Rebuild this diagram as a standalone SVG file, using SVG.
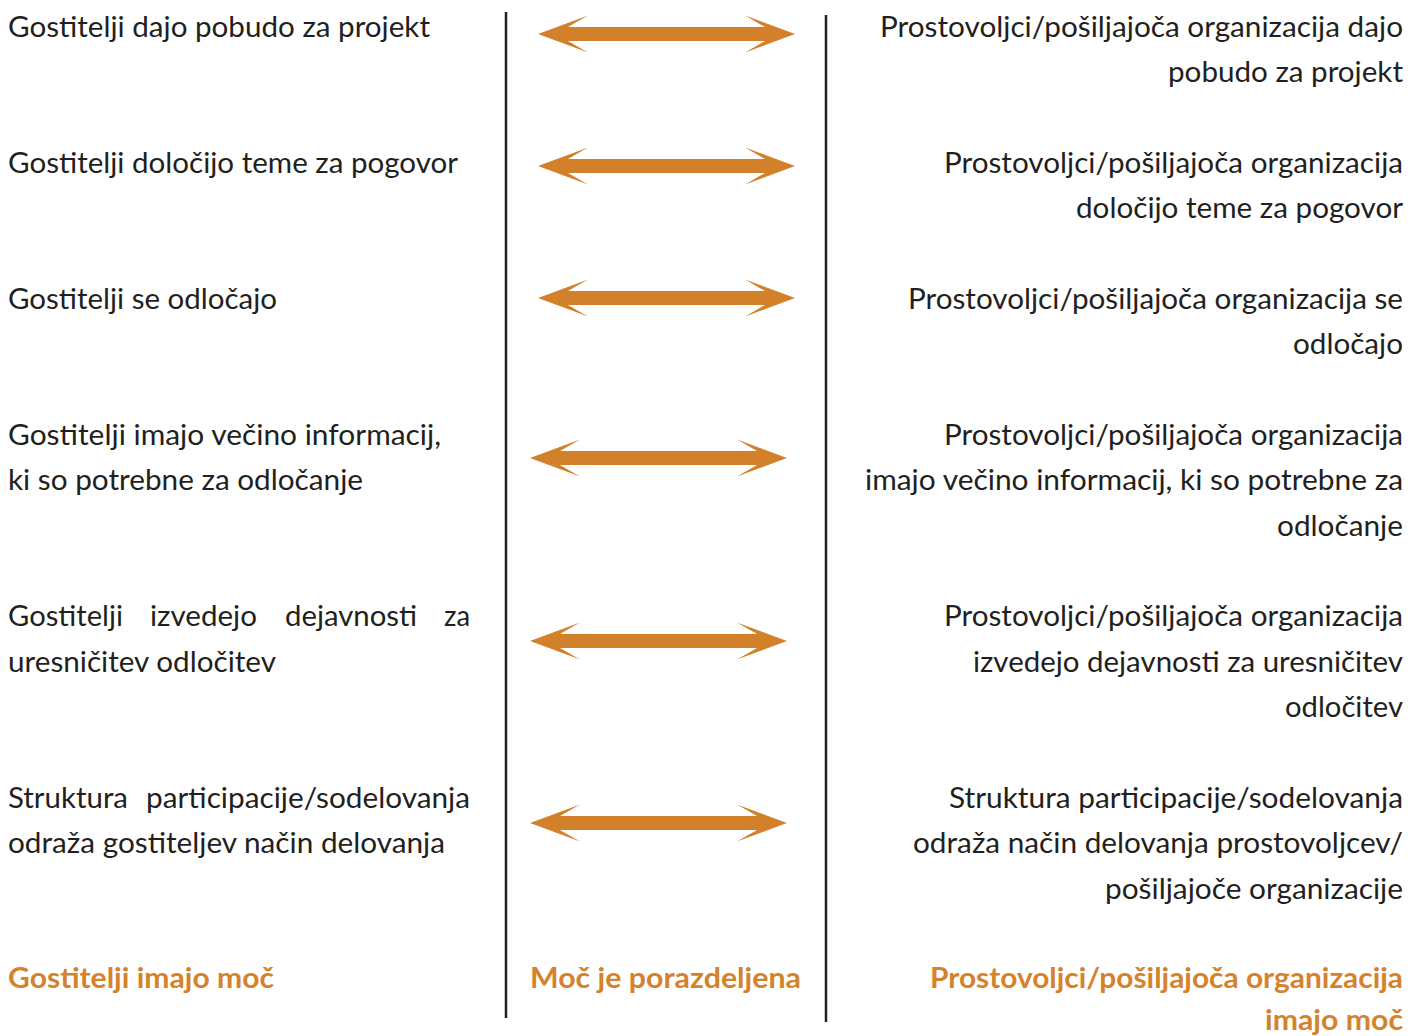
<svg xmlns="http://www.w3.org/2000/svg" width="1410" height="1036" viewBox="0 0 1410 1036">
<style>
text{font-family:Lato,"Open Sans","Noto Sans",sans-serif;font-size:28px;fill:#231f20}
.r{text-anchor:end}
.b{font-weight:bold;fill:#d5822c}
.arr{fill:#d3802b}
.sep{stroke:#231f20;stroke-width:2.5}
</style>
<defs>
<path id="a" d="M0,0 L50,-18.5 L30,-7 L227,-7 L207,-18.5 L257,0 L207,18.5 L227,7 L30,7 L50,18.5 Z"/>
</defs>
<rect width="1410" height="1036" fill="#fff"/>
<g id="separators">
<line class="sep" x1="506" y1="12" x2="506" y2="1018"/>
<line class="sep" x1="826" y1="15" x2="826" y2="1022"/>
</g>
<g id="connectors">
<use href="#a" class="arr" x="538" y="34"/>
<use href="#a" class="arr" x="538" y="166"/>
<use href="#a" class="arr" x="538" y="298"/>
<use href="#a" class="arr" x="530" y="458"/>
<use href="#a" class="arr" x="530" y="641"/>
<use href="#a" class="arr" x="530" y="823"/>
</g>
<g id="left1"><text x="8" y="37" textLength="422" lengthAdjust="spacingAndGlyphs">Gostitelji dajo pobudo za projekt</text></g>
<g id="left2"><text x="8" y="173" textLength="450" lengthAdjust="spacingAndGlyphs">Gostitelji določijo teme za pogovor</text></g>
<g id="left3"><text x="8" y="309" textLength="269" lengthAdjust="spacingAndGlyphs">Gostitelji se odločajo</text></g>
<g id="left4">
<text x="8" y="445" textLength="433" lengthAdjust="spacingAndGlyphs">Gostitelji imajo večino informacij,</text>
<text x="8" y="490" textLength="355" lengthAdjust="spacingAndGlyphs">ki so potrebne za odločanje</text>
</g>
<g id="left5">
<text x="8" y="626" textLength="115" lengthAdjust="spacingAndGlyphs">Gostitelji</text>
<text x="150" y="626" textLength="107" lengthAdjust="spacingAndGlyphs">izvedejo</text>
<text x="285" y="626" textLength="132" lengthAdjust="spacingAndGlyphs">dejavnosti</text>
<text x="444" y="626" textLength="26" lengthAdjust="spacingAndGlyphs">za</text>
<text x="8" y="672" textLength="268" lengthAdjust="spacingAndGlyphs">uresničitev odločitev</text>
</g>
<g id="left6">
<text x="8" y="808" textLength="120" lengthAdjust="spacingAndGlyphs">Struktura</text>
<text x="146" y="808" textLength="324" lengthAdjust="spacingAndGlyphs">participacije/sodelovanja</text>
<text x="8" y="853" textLength="437" lengthAdjust="spacingAndGlyphs">odraža gostiteljev način delovanja</text>
</g>
<g id="right1">
<text class="r" x="1403" y="37" textLength="523" lengthAdjust="spacingAndGlyphs">Prostovoljci/pošiljajoča organizacija dajo</text>
<text class="r" x="1403" y="82" textLength="235" lengthAdjust="spacingAndGlyphs">pobudo za projekt</text>
</g>
<g id="right2">
<text class="r" x="1403" y="173" textLength="459" lengthAdjust="spacingAndGlyphs">Prostovoljci/pošiljajoča organizacija</text>
<text class="r" x="1403" y="218" textLength="327" lengthAdjust="spacingAndGlyphs">določijo teme za pogovor</text>
</g>
<g id="right3">
<text class="r" x="1403" y="309" textLength="495" lengthAdjust="spacingAndGlyphs">Prostovoljci/pošiljajoča organizacija se</text>
<text class="r" x="1403" y="354" textLength="110" lengthAdjust="spacingAndGlyphs">odločajo</text>
</g>
<g id="right4">
<text class="r" x="1403" y="445" textLength="459" lengthAdjust="spacingAndGlyphs">Prostovoljci/pošiljajoča organizacija</text>
<text class="r" x="1403" y="490" textLength="538" lengthAdjust="spacingAndGlyphs">imajo večino informacij, ki so potrebne za</text>
<text class="r" x="1403" y="536" textLength="126" lengthAdjust="spacingAndGlyphs">odločanje</text>
</g>
<g id="right5">
<text class="r" x="1403" y="626" textLength="459" lengthAdjust="spacingAndGlyphs">Prostovoljci/pošiljajoča organizacija</text>
<text class="r" x="1403" y="672" textLength="430" lengthAdjust="spacingAndGlyphs">izvedejo dejavnosti za uresničitev</text>
<text class="r" x="1403" y="717" textLength="118" lengthAdjust="spacingAndGlyphs">odločitev</text>
</g>
<g id="right6">
<text class="r" x="1403" y="808" textLength="454" lengthAdjust="spacingAndGlyphs">Struktura participacije/sodelovanja</text>
<text class="r" x="1403" y="853" textLength="490" lengthAdjust="spacingAndGlyphs">odraža način delovanja prostovoljcev/</text>
<text class="r" x="1403" y="899" textLength="298" lengthAdjust="spacingAndGlyphs">pošiljajoče organizacije</text>
</g>
<g id="label-left"><text class="b" x="8" y="988" textLength="266" lengthAdjust="spacingAndGlyphs">Gostitelji imajo moč</text></g>
<g id="label-middle"><text class="b" x="530" y="988" textLength="271" lengthAdjust="spacingAndGlyphs">Moč je porazdeljena</text></g>
<g id="label-right">
<text class="b r" x="1403" y="988" textLength="473" lengthAdjust="spacingAndGlyphs">Prostovoljci/pošiljajoča organizacija</text>
<text class="b r" x="1403" y="1030" textLength="138" lengthAdjust="spacingAndGlyphs">imajo moč</text>
</g>
</svg>
